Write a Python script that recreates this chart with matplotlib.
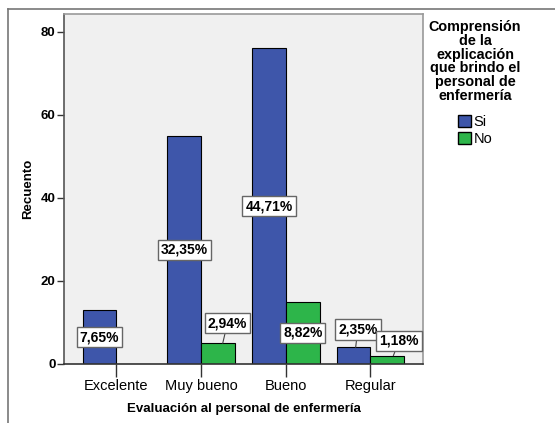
import numpy as np
import matplotlib.pyplot as plt
from matplotlib.lines import Line2D
from matplotlib.patches import Patch

plt.rcParams['font.family'] = ['Liberation Sans', 'DejaVu Sans']

categorias = ["Excelente", "Muy bueno", "Bueno", "Regular"]
si = [13, 55, 76, 4]
no = [0, 5, 15, 2]
pct_si = ["7,65%", "32,35%", "44,71%", "2,35%"]
pct_no = ["", "2,94%", "8,82%", "1,18%"]
yticks = [0, 20, 40, 60, 80]

azul = "#3E56AA"
verde = "#2DB54A"

fig = plt.figure(figsize=(5.55, 4.23), dpi=100)
ax = fig.add_axes([0.1153, 0.1395, 0.6468, 0.8274])
ax.set_facecolor("#F0F0F0")

x = np.arange(len(categorias))
w = 0.4
ax.bar(x - w/2, si, w, color=azul, edgecolor="black", linewidth=0.8, zorder=2)
ax.bar(x + w/2, no, w, color=verde, edgecolor="black", linewidth=0.8, zorder=2)

ax.set_xlim(-0.62, 3.62)
ax.set_ylim(0, 84.3)
ax.set_yticks(yticks)
ax.set_yticklabels([str(v) for v in yticks], fontsize=9.5, fontweight="bold")
ax.set_xticks(x)
ax.set_xticklabels(categorias, fontsize=10.5)
ax.tick_params(axis="y", length=5, width=1, color="#333333", pad=1)
ax.tick_params(axis="x", length=9, width=1, color="#333333", pad=2)

for s in ["top", "right"]:
    ax.spines[s].set_color("#999999")
    ax.spines[s].set_linewidth(1.2)
ax.spines["left"].set_color("#555555")
ax.spines["bottom"].set_color("#333333")
ax.spines["left"].set_linewidth(1.2)
ax.spines["bottom"].set_linewidth(1.2)

ax.set_ylabel("Recuento", fontsize=9.5, fontweight="bold", labelpad=5)
ax.set_xlabel("Evaluación al personal de enfermería", fontsize=9.5, fontweight="bold", labelpad=7)

caja = dict(boxstyle="square,pad=0.22", fc="white", ec="#666666", lw=1)


def etiqueta(xc, valor, texto, fuera, dy, dx=0):
    if texto == "":
        return
    if not fuera:
        ax.text(xc, valor / 2, texto, ha="center", va="center", fontsize=10,
                fontweight="bold", bbox=caja, zorder=4)
    else:
        ax.annotate(texto, xy=(xc + dx * 0.5, valor), xytext=(xc + dx, valor + dy),
                    ha="center", va="center", fontsize=10, fontweight="bold",
                    bbox=caja, zorder=4,
                    arrowprops=dict(arrowstyle="-", color="#444444", lw=0.8,
                                    shrinkA=0, shrinkB=0))


desp_si = [0, 0, 0, 0.05]
alto_si = [0, 0, 0, 4.3]
desp_no = [0, 0.11, 0, 0.14]
alto_no = [0, 4.8, 0, 3.6]
for i in range(len(categorias)):
    etiqueta(x[i] - w/2, si[i], pct_si[i], si[i] < 10, alto_si[i], desp_si[i])
    etiqueta(x[i] + w/2, no[i], pct_no[i], no[i] < 10, alto_no[i], desp_no[i])

# leyenda
fig.text(0.856, 0.952, "Comprensión\nde la\nexplicación\nque brindo el\npersonal de\nenfermería",
         ha="center", va="top", fontsize=10.4, fontweight="bold", linespacing=0.97)
handles = [Patch(facecolor=azul, edgecolor="black", label="Si"),
           Patch(facecolor=verde, edgecolor="black", label="No")]
fig.legend(handles=handles, loc="upper left", bbox_to_anchor=(0.812, 0.745),
           frameon=False, fontsize=10.5, handlelength=0.9, handleheight=0.9,
           handletextpad=0.15, labelspacing=0.2, borderpad=0)

# marco exterior
fig.add_artist(Line2D([8/555, 8/555], [0, 1 - 9/423], transform=fig.transFigure,
                      color="#777777", lw=1.2))
fig.add_artist(Line2D([8/555, 1], [1 - 9/423, 1 - 9/423], transform=fig.transFigure,
                      color="#777777", lw=1.2))

fig.savefig("out.png", dpi=100)
